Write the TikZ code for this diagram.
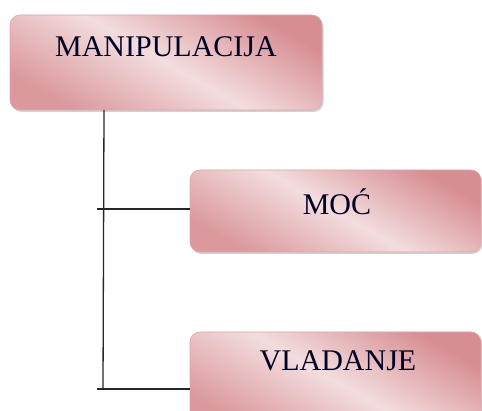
\documentclass[tikz,border=0pt]{standalone}
\usepackage{fontspec}
\setmainfont{Liberation Serif}
\usetikzlibrary{shadows}
\definecolor{rosedark}{HTML}{D78E93}
\definecolor{roselight}{HTML}{F3DDDE}
\tikzset{
  pinkbox/.style={rounded corners=10pt, draw=rosedark!80!white, line width=0.6pt,
    top color=rosedark, bottom color=rosedark!90!white, middle color=roselight, shading angle=-30,
    drop shadow={shadow xshift=1.5pt, shadow yshift=-2pt, opacity=0.45, fill=gray!80}},
  lbl/.style={font=\fontsize{30}{34}\selectfont, text=black!85!blue},
  conn/.style={line width=1.3pt, black!85}
}
\begin{document}
\begin{tikzpicture}[x=1pt,y=1pt]
\useasboundingbox (0,0) rectangle (482,-411);
\clip (0,0) rectangle (482,-411);
% boxes
\path[pinkbox] (10,-15) rectangle (322,-110);
\path[pinkbox] (190,-170) rectangle (481,-252);
\path[pinkbox] (190,-332) rectangle (481,-430);
% labels
\node[lbl] (manip) at (166,-47) {MANIPULACIJA};
\node[lbl] (moc) at (337,-202) {MOĆ};
\node[lbl] (vlad) at (338,-361) {VLADANJE};
% connectors
\coordinate (top) at (104,-110);
\coordinate (bot) at (103,-389);
\coordinate (mocL) at (190,-209);
\coordinate (vladL) at (190,-389);
\coordinate (mocS) at (97,-209);
\coordinate (vladS) at (97,-389);
\draw[conn] (top) -- (bot);
\draw[conn] (mocS) -- (mocL);
\draw[conn] (vladS) -- (vladL);
\end{tikzpicture}
\end{document}
